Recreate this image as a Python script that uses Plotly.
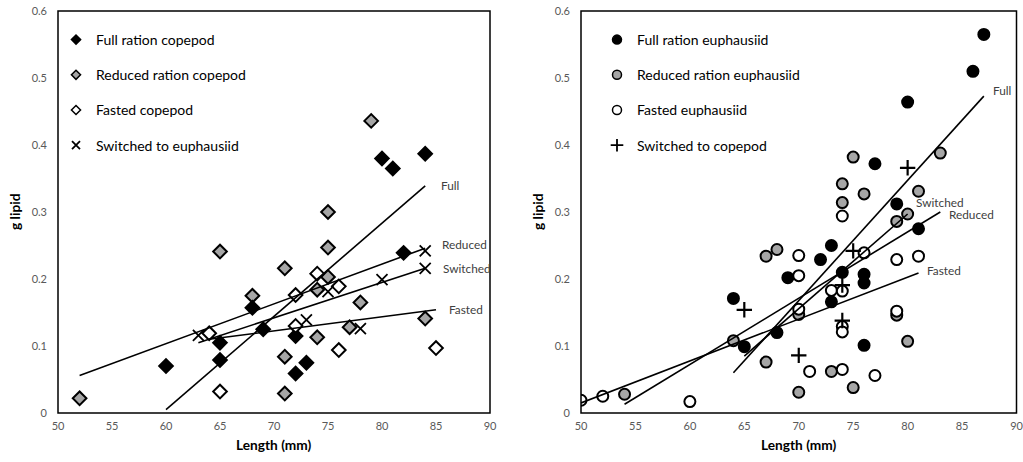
import plotly.graph_objects as go

# ---------------- data: left panel (copepod diet) ----------------
full_cop_x = [60, 65, 65, 68, 69, 72, 72, 73, 80, 81, 82, 84]
full_cop_y = [0.070, 0.105, 0.079, 0.157, 0.125, 0.115, 0.059, 0.075, 0.380, 0.365, 0.239, 0.387]
red_cop_x = [52, 65, 68, 71, 71, 71, 74, 74, 75, 75, 75, 77, 78, 79, 84]
red_cop_y = [0.022, 0.241, 0.175, 0.216, 0.084, 0.029, 0.184, 0.113, 0.300, 0.247, 0.203, 0.128, 0.165, 0.436, 0.141]
fast_cop_x = [64, 65, 72, 72, 74, 76, 76, 85]
fast_cop_y = [0.119, 0.032, 0.176, 0.130, 0.208, 0.189, 0.094, 0.097]
sw_cop_x = [63, 73, 75, 78, 80, 84, 84]
sw_cop_y = [0.116, 0.139, 0.181, 0.126, 0.199, 0.242, 0.216]

# trend lines (left): start/end
trend_left_names = ["Full", "Reduced", "Switched", "Fasted"]
trend_left_x0 = [60, 52, 63, 64]
trend_left_x1 = [84, 84, 84, 85]
trend_left_y0 = [0.005, 0.056, 0.105, 0.110]
trend_left_y1 = [0.339, 0.246, 0.216, 0.154]
label_left_x = [85.3, 85.4, 85.5, 86.0]
label_left_y = [0.340, 0.251, 0.215, 0.154]

# ---------------- data: right panel (euphausiid diet) ----------------
full_eup_x = [64, 65, 68, 69, 72, 73, 73, 74, 76, 76, 76, 77, 79, 80, 81, 86, 87]
full_eup_y = [0.171, 0.099, 0.120, 0.202, 0.229, 0.250, 0.166, 0.210, 0.207, 0.194, 0.101, 0.372, 0.312, 0.464, 0.275, 0.510, 0.565]
red_eup_x = [54, 64, 67, 68, 67, 70, 70, 73, 74, 74, 75, 75, 76, 79, 79, 80, 80, 81, 83]
red_eup_y = [0.028, 0.108, 0.234, 0.244, 0.076, 0.147, 0.031, 0.062, 0.342, 0.314, 0.382, 0.038, 0.327, 0.286, 0.146, 0.297, 0.107, 0.331, 0.388]
fast_eup_x = [50, 52, 60, 70, 70, 70, 71, 73, 74, 74, 74, 74, 74, 76, 77, 79, 79, 81]
fast_eup_y = [0.019, 0.025, 0.017, 0.235, 0.205, 0.155, 0.062, 0.183, 0.294, 0.182, 0.129, 0.121, 0.065, 0.239, 0.056, 0.229, 0.152, 0.234]
sw_eup_x = [65, 70, 74, 74, 75, 80]
sw_eup_y = [0.154, 0.086, 0.191, 0.138, 0.242, 0.366]

trend_right_names = ["Full", "Reduced", "Switched", "Fasted"]
trend_right_x0 = [64, 54, 65, 50]
trend_right_x1 = [87, 83, 80, 81]
trend_right_y0 = [0.060, 0.013, 0.085, 0.015]
trend_right_y1 = [0.473, 0.300, 0.297, 0.209]
label_right_x = [87.7, 83.6, 80.55, 81.6]
label_right_y = [0.482, 0.297, 0.314, 0.212]

x_ticks = [50, 55, 60, 65, 70, 75, 80, 85, 90]
y_ticks = [0, 0.1, 0.2, 0.3, 0.4, 0.5, 0.6]
y_tick_text = ["0", "0.1", "0.2", "0.3", "0.4", "0.5", "0.6"]

FONT = "Lato"
GRAY = "#a6a6a6"

fig = go.Figure()


def add_points(x, y, xa, ya, symbol, fill, size, lw):
    fig.add_trace(go.Scatter(
        x=x, y=y, xaxis=xa, yaxis=ya, mode="markers", showlegend=False,
        marker=dict(symbol=symbol, color=fill, size=size,
                    line=dict(color="black", width=lw)),
        hoverinfo="x+y"))


def add_legend_item(name, legend, symbol, fill, size, lw, group):
    fig.add_trace(go.Scatter(
        x=[None], y=[None], mode="markers", name=name, legend=legend,
        legendgroup=group, showlegend=True,
        marker=dict(symbol=symbol, color=fill, size=size,
                    line=dict(color="black", width=lw))))


# left panel markers
add_points(red_cop_x, red_cop_y, "x", "y", "diamond", GRAY, 10.5, 2)
add_points(full_cop_x, full_cop_y, "x", "y", "diamond", "black", 10.5, 2)
add_points(fast_cop_x, fast_cop_y, "x", "y", "diamond", "white", 10.5, 2)
add_points(sw_cop_x, sw_cop_y, "x", "y", "x-thin-open", "black", 11, 1.8)

# right panel markers
add_points(full_eup_x, full_eup_y, "x2", "y2", "circle", "black", 11, 2)
add_points(red_eup_x, red_eup_y, "x2", "y2", "circle", GRAY, 11, 2)
add_points(fast_eup_x, fast_eup_y, "x2", "y2", "circle", "white", 11, 2)
add_points(sw_eup_x, sw_eup_y, "x2", "y2", "cross-thin-open", "black", 11, 2.2)

# trend lines
for i in range(4):
    fig.add_trace(go.Scatter(
        x=[trend_left_x0[i], trend_left_x1[i]], y=[trend_left_y0[i], trend_left_y1[i]],
        xaxis="x", yaxis="y", mode="lines", showlegend=False,
        line=dict(color="black", width=1.6), hoverinfo="skip"))
    fig.add_trace(go.Scatter(
        x=[trend_right_x0[i], trend_right_x1[i]], y=[trend_right_y0[i], trend_right_y1[i]],
        xaxis="x2", yaxis="y2", mode="lines", showlegend=False,
        line=dict(color="black", width=1.6), hoverinfo="skip"))

# legend-only items
add_legend_item("Full ration copepod", "legend", "diamond", "black", 7, 1.5, "a1")
add_legend_item("Reduced ration copepod", "legend", "diamond", GRAY, 7, 1.5, "a2")
add_legend_item("Fasted copepod", "legend", "diamond", "white", 7, 1.5, "a3")
add_legend_item("Switched to euphausiid", "legend", "x-thin-open", "black", 8, 1.8, "a4")
add_legend_item("Full ration euphausiid", "legend2", "circle", "black", 9, 1.5, "b1")
add_legend_item("Reduced ration euphausiid", "legend2", "circle", GRAY, 9, 1.5, "b2")
add_legend_item("Fasted euphausiid", "legend2", "circle", "white", 9, 1.5, "b3")
add_legend_item("Switched to copepod", "legend2", "cross-thin-open", "black", 9, 1.8, "b4")

annotations = []
for i in range(4):
    annotations.append(dict(x=label_left_x[i], y=label_left_y[i], xref="x", yref="y",
                            text=trend_left_names[i], showarrow=False, xanchor="left",
                            yanchor="middle", font=dict(family=FONT, size=11.8, color="#404040")))
    annotations.append(dict(x=label_right_x[i], y=label_right_y[i], xref="x2", yref="y2",
                            text=trend_right_names[i], showarrow=False, xanchor="left",
                            yanchor="middle", font=dict(family=FONT, size=11.8, color="#404040")))

W, H = 1023, 462
left_dom = [58 / W, 490 / W]
right_dom = [581 / W, 1016.5 / W]
y_dom = [(H - 413) / H, (H - 11) / H]

for cx, nm in ((274, "Length (mm)"), (799, "Length (mm)")):
    annotations.append(dict(x=cx / W, y=(H - 444) / H, xref="paper", yref="paper",
                            text="<b>%s</b>" % nm, showarrow=False, xanchor="center",
                            yanchor="middle", font=dict(family=FONT, size=13.7, color="black")))
for cx in (14, 537):
    annotations.append(dict(x=cx / W, y=(H - 212) / H, xref="paper", yref="paper",
                            text="<b>g lipid</b>", showarrow=False, textangle=-90,
                            xanchor="center", yanchor="middle",
                            font=dict(family=FONT, size=13.7, color="black")))

# panel frames
shapes = []
for xr, yr in (("x domain", "y domain"), ("x2 domain", "y2 domain")):
    shapes.append(dict(type="rect", xref=xr, yref=yr, x0=0, x1=1, y0=0, y1=1,
                       line=dict(color="black", width=1.5), fillcolor="rgba(0,0,0,0)",
                       layer="above"))

xaxis_common = dict(range=[50, 90], tickvals=x_ticks, showgrid=False, zeroline=False,
                    showline=False, ticks="", ticklabelstandoff=5, ticklabeloverflow="allow",
                    tickfont=dict(family=FONT, size=11, color="#595959"), fixedrange=True)
yaxis_common = dict(range=[0, 0.6], tickvals=y_ticks, ticktext=y_tick_text, showgrid=False,
                    zeroline=False, showline=False, ticks="", ticklabelstandoff=10,
                    ticklabeloverflow="allow",
                    tickfont=dict(family=FONT, size=11, color="#595959"), fixedrange=True,
                    domain=y_dom)

legend_common = dict(bgcolor="rgba(0,0,0,0)", borderwidth=0, tracegroupgap=14,
                     font=dict(family=FONT, size=14, color="black"),
                     itemwidth=30, xanchor="left", yanchor="top", itemclick=False,
                     itemdoubleclick=False)

fig.update_layout(
    width=W, height=H,
    margin=dict(l=0, r=0, t=0, b=0, autoexpand=False),
    paper_bgcolor="white", plot_bgcolor="white",
    xaxis=dict(domain=left_dom, anchor="y", **xaxis_common),
    yaxis=dict(anchor="x", **yaxis_common),
    xaxis2=dict(domain=right_dom, anchor="y2", **xaxis_common),
    yaxis2=dict(anchor="x2", **yaxis_common),
    legend=dict(x=56 / W, y=(H - 24) / H, **legend_common),
    legend2=dict(x=597 / W, y=(H - 24) / H, **legend_common),
    annotations=annotations,
    shapes=shapes,
    font=dict(family=FONT),
)

fig.write_html("out.html", config={"displayModeBar": False},
               post_script="document.body.style.margin='0px';document.body.style.overflow='hidden';")
